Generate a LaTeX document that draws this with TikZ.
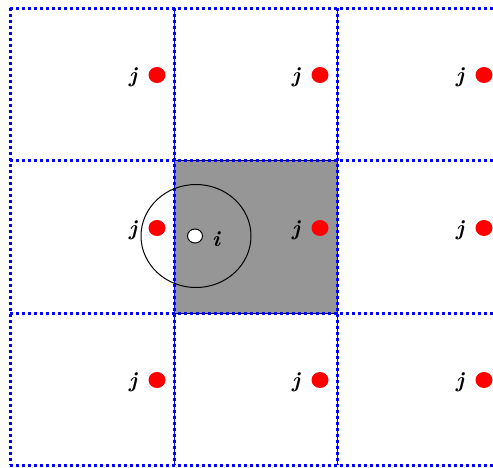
\documentclass[tikz,border=0pt]{standalone}
\usetikzlibrary{shapes.geometric}
\begin{document}
\begin{tikzpicture}[x=1pt,y=-1pt,
  gridline/.style={blue,line width=3pt,dash pattern=on 3pt off 3pt},
  thinline/.style={blue,line width=1pt},
  reddot/.style={fill=red,draw=none,ellipse,minimum width=17pt,minimum height=16pt,inner sep=0pt},
  jlab/.style={font=\fontsize{22}{22}\selectfont\bfseries\itshape,inner sep=0pt}
]
\useasboundingbox (0,0) rectangle (493,467);
\fill[black!41] (174,160) rectangle (337,313);
\draw[black,line width=0.6pt] (174,160) rectangle (337,313);
% vertical lines
\foreach \x in {174,337} {\draw[thinline] (\x,8) -- (\x,465);}
\foreach \x in {10,174,337} {\draw[gridline] (\x,8) -- (\x,465);}
\foreach \y in {8,160,313,465} {\draw[gridline] (10,\y) -- (496,\y);}
% dots and labels
\foreach \c/\cx in {a/157,b/320,c/484} {
  \foreach \r/\ry in {1/75,2/228,3/380} {
    \node[reddot] (d\c\r) at (\cx,\ry) {};
    \node[jlab] (j\c\r) at (\cx-24,\ry+2) {j};
  }
}
\draw[black,line width=1pt] (196,236) ellipse [x radius=55, y radius=51.5];
\node[draw=black,fill=white,ellipse,minimum width=15pt,minimum height=14pt,inner sep=0pt,line width=1pt] (i) at (195,236) {};
\node[jlab] (il) at (216,239) {i};
\end{tikzpicture}
\end{document}
